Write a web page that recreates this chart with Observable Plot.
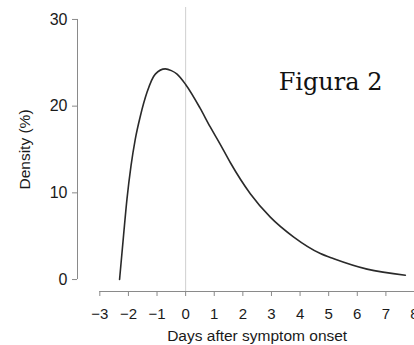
<!DOCTYPE html>
<html>
<head>
<meta charset="utf-8">
<script src="https://cdn.jsdelivr.net/npm/d3@7"></script>
<script src="https://cdn.jsdelivr.net/npm/@observablehq/plot@0.6"></script>
<style>
  html, body { margin: 0; padding: 0; background: #fff; overflow: hidden; }
  #chart { width: 414px; height: 345px; }
</style>
</head>
<body>
<div id="chart"></div>
<script>
// Days relative to symptom onset
const days = [-2.31, -2.17, -2.05, -1.91, -1.76, -1.58, -1.35, -1.06, -0.71, -0.50, -0.30, 0.00, 0.50, 0.86, 1.21, 1.56, 2.26, 2.96, 3.78, 4.71, 5.18, 6.34, 7.68];
// Density (%)
const density = [0.0, 5.1, 9.3, 13.1, 16.2, 18.9, 21.6, 23.7, 24.3, 24.1, 23.7, 22.5, 19.8, 17.6, 15.6, 13.5, 9.9, 7.2, 4.9, 3.0, 2.4, 1.2, 0.5];

const xTicks = [-3, -2, -1, 0, 1, 2, 3, 4, 5, 6, 7, 8];
const yTicks = [0, 10, 20, 30];
const xLabel = "Days after symptom onset";
const yLabel = "Density (%)";
const annotation = "Figura 2";

const xDomain = [-3.78, 8];
const yDomain = [-1.38, 31.38];

const data = days.map((d, i) => ({day: d, density: density[i]}));
const fmt = d3.format("d");
const sans = "'Liberation Sans', Arial, Helvetica, sans-serif";

const chart = Plot.plot({
  width: 414,
  height: 345,
  marginLeft: 77,
  marginRight: 0,
  marginTop: 7,
  marginBottom: 54,
  style: {fontFamily: sans, fontSize: "16px", color: "#1a1a1a", background: "#fff"},
  x: {domain: xDomain},
  y: {domain: yDomain},
  marks: [
    Plot.ruleX([0], {stroke: "#cfcfcf", strokeWidth: 1}),
    Plot.line(data, {x: "day", y: "density", curve: "monotone-x", stroke: "#2a2a2a", strokeWidth: 1.6}),
    // y axis
    Plot.ruleX([xDomain[0]], {y1: yTicks[0], y2: yTicks[yTicks.length - 1], stroke: "#8a8a8a"}),
    Plot.axisY(yTicks, {tickSize: 5, tickPadding: 5, tickFormat: fmt, stroke: "#8a8a8a", fill: "#1a1a1a", fontSize: 16, label: null}),
    // x axis
    Plot.ruleY([yDomain[0]], {x1: xTicks[0], x2: xTicks[xTicks.length - 1], stroke: "#8a8a8a"}),
    Plot.axisX(xTicks, {tickSize: 5, tickPadding: 12, tickFormat: fmt, stroke: "#8a8a8a", fill: "#1a1a1a", fontSize: 15, label: null}),
    // axis titles
    Plot.text([xLabel], {x: (xTicks[0] + xTicks[xTicks.length - 1]) / 2, y: yDomain[0], dy: 45, fontSize: 15.5, fill: "#1a1a1a", textAnchor: "middle"}),
    Plot.text([yLabel], {x: xDomain[0], y: (yTicks[0] + yTicks[yTicks.length - 1]) / 2, dx: -52, rotate: -90, fontSize: 15.5, fill: "#1a1a1a", textAnchor: "middle"}),
    // annotation
    Plot.text([annotation], {frameAnchor: "top-right", dx: -32, dy: 82, fontSize: 24, fontFamily: "'DejaVu Serif', Georgia, serif", fill: "#111", textAnchor: "end", lineAnchor: "bottom"})
  ]
});
document.getElementById("chart").appendChild(chart);
</script>
</body>
</html>
